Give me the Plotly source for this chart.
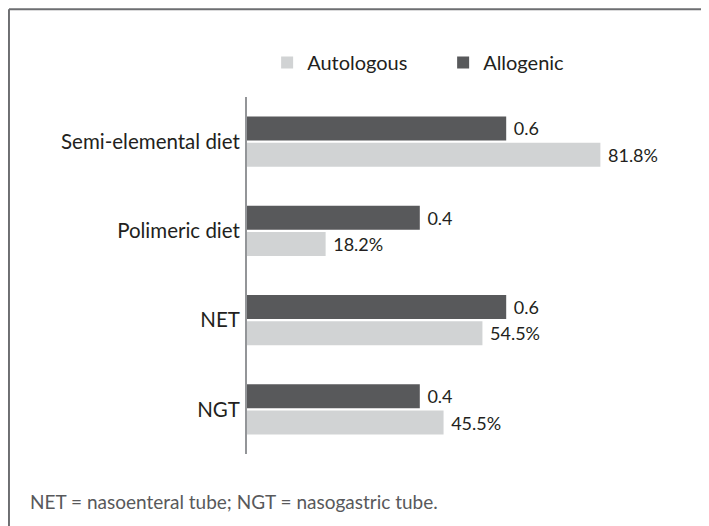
import plotly.graph_objects as go

categories = ["Semi-elemental diet", "Polimeric diet", "NET", "NGT"]
autologous = [81.8, 18.2, 54.5, 45.5]
allogenic = [0.6, 0.4, 0.6, 0.4]
autologous_labels = ["81.8%", "18.2%", "54.5%", "45.5%"]
allogenic_labels = ["0.6", "0.4", "0.6", "0.4"]
footnote = "NET = nasoenteral tube; NGT = nasogastric tube."

FONT = "Lato"
DARK = "#58595b"
LIGHT = "#d1d3d4"
TEXT = "#231f20"
FRAME = "#6d6e71"

fig = go.Figure()
fig.add_trace(go.Bar(
    y=categories, x=autologous, orientation="h", name="Autologous",
    marker=dict(color=LIGHT, line=dict(width=0)),
    text=autologous_labels, texttemplate=" %{text}", textposition="outside",
    cliponaxis=False, textfont=dict(family=FONT, size=18, color=TEXT),
))
fig.add_trace(go.Bar(
    y=categories, x=[v * 100 for v in allogenic], orientation="h", name="Allogenic",
    marker=dict(color=DARK, line=dict(width=0)),
    text=allogenic_labels, texttemplate=" %{text}", textposition="outside",
    cliponaxis=False, textfont=dict(family=FONT, size=18, color=TEXT),
))

fig.update_layout(
    width=760, height=600,
    margin=dict(l=239, r=89, t=89, b=154, autoexpand=False),
    paper_bgcolor="white", plot_bgcolor="white",
    barmode="group", bargap=0.41, bargroupgap=0.09,
    font=dict(family=FONT, size=20, color=TEXT),
    showlegend=True,
    legend=dict(orientation="h", x=0.0466, y=1.0966, xanchor="left", yanchor="middle",
                bgcolor="rgba(0,0,0,0)", entrywidth=131,
                font=dict(family=FONT, size=20, color=TEXT), traceorder="normal"),
    xaxis=dict(range=[0, 100], showgrid=False, zeroline=False, showticklabels=False,
               showline=False, fixedrange=True, automargin=False),
    yaxis=dict(categoryorder="array", categoryarray=categories[::-1], automargin=False,
               showgrid=False, zeroline=False, showline=True, linecolor="#939598",
               linewidth=2, ticks="outside", ticklen=1, tickcolor="rgba(0,0,0,0)",
               tickfont=dict(family=FONT, size=20.5, color=TEXT)),
    shapes=[
        dict(type="line", xref="paper", yref="paper", x0=-0.551, x1=1.2,
             y0=1.2457, y1=1.2457, line=dict(color=FRAME, width=2), layer="below"),
        dict(type="line", xref="paper", yref="paper", x0=-0.551, x1=-0.551,
             y0=-0.3, y1=1.2457, line=dict(color=FRAME, width=2), layer="below"),
    ],
    annotations=[dict(text=footnote, xref="paper", yref="paper", x=-0.507, y=-0.133,
                      xanchor="left", yanchor="middle", showarrow=False,
                      font=dict(family=FONT, size=19, color="#58595b"))],
)

fig.write_html("out.html")
